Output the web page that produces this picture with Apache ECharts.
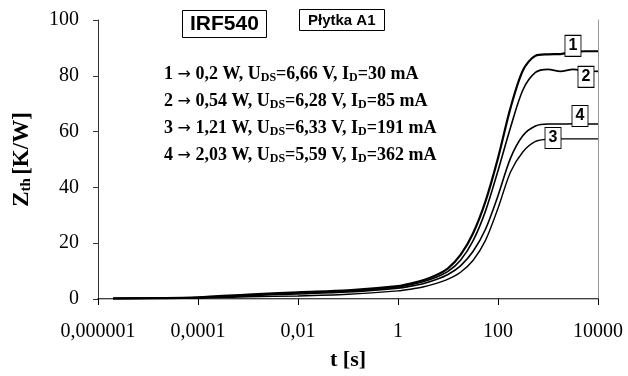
<!DOCTYPE html>
<html>
<head>
<meta charset="utf-8">
<script src="https://cdn.jsdelivr.net/npm/echarts@6/dist/echarts.min.js"></script>
<style>html,body{margin:0;padding:0;background:#fff}#c{width:628px;height:376px}</style>
</head>
<body>
<div id="c"></div>
<script>
// time points [s]
const times = [2e-6, 1e-5, 1e-4, 1e-3, 0.01, 0.1, 1, 1.78, 3.16, 5.62, 10, 17.8, 31.6, 56.2, 100, 178, 316, 562, 1000, 1780, 3160, 5620, 10000];
// Zth [K/W] curves
const zth1 = [0.2, 0.3, 0.6, 1.6, 2.4, 3.1, 4.6, 5.5, 6.7, 8.4, 11, 15.8, 23.5, 35, 50.5, 68.5, 82, 87.2, 87.7, 87.8, 88.6, 88.8, 88.8];
const zth2 = [0.2, 0.3, 0.5, 1.4, 2.2, 2.9, 4.3, 5.1, 6.2, 7.7, 9.9, 13.9, 20.8, 31.5, 46, 61.5, 75, 81.2, 82.3, 81.6, 82.3, 81.8, 81.6];
const zth3 = [0.15, 0.2, 0.3, 0.8, 1.1, 1.7, 2.9, 3.5, 4.3, 5.5, 7.1, 9.6, 13.8, 21, 32.5, 45.5, 52.8, 56.5, 57.3, 57.4, 57.4, 57.4, 57.4];
const zth4 = [0.2, 0.3, 0.45, 1.2, 1.8, 2.5, 3.9, 4.6, 5.5, 6.9, 8.8, 11.9, 17, 25, 37, 50.5, 58.6, 62, 62.7, 62.7, 62.8, 62.7, 62.7];
const curveNames = ['1', '2', '3', '4'];
// curve number label positions [t, Zth]
const labelPos = [[3160, 90.7], [5750, 79.6], [1260, 57.7], [4365, 65.6]];
const xTickLabels = ['0,000001', '0,0001', '0,01', '1', '100', '10000'];
const legendLines = [
  '1 {a|\u2192} 0,2 W, U{s|DS}=6,66 V, I{s|D}=30 mA',
  '2 {a|\u2192} 0,54 W, U{s|DS}=6,28 V, I{s|D}=85 mA',
  '3 {a|\u2192} 1,21 W, U{s|DS}=6,33 V, I{s|D}=191 mA',
  '4 {a|\u2192} 2,03 W, U{s|DS}=5,59 V, I{s|D}=362 mA'
];

const allZ = [zth1, zth2, zth3, zth4];
const widths = [2.2, 1.6, 1.4, 1.6];
const chart = echarts.init(document.getElementById('c'), null, {renderer: 'canvas'});

const serif = '"Liberation Serif", "Times New Roman", serif';
const sans = '"Liberation Sans", Arial, sans-serif';

const titles = [
  {text: 'IRF540', left: 182, top: 10, padding: [4, 8, 3, 8], borderColor: '#000', borderWidth: 1, backgroundColor: '#fff',
   textStyle: {fontFamily: sans, fontWeight: 'bold', fontSize: 21, color: '#000'}},
  {text: 'P\u0142ytka A1', left: 299, top: 9, padding: [4, 9, 3, 9], borderColor: '#000', borderWidth: 1, backgroundColor: '#fff',
   textStyle: {fontFamily: sans, fontWeight: 'bold', fontSize: 15, color: '#000'}}
];
legendLines.forEach((t, i) => {
  titles.push({text: t, left: 164, top: 65 + i * 27, padding: 0,
    textStyle: {fontFamily: serif, fontWeight: 'bold', fontSize: 18, color: '#000',
      rich: {
        s: {fontFamily: serif, fontWeight: 'bold', fontSize: 12, color: '#000', verticalAlign: 'bottom', padding: [7, 0, 0, 0]},
        a: {fontFamily: '"DejaVu Sans", sans-serif', fontWeight: 'normal', fontSize: 16, color: '#000'}
      }}});
});

const series = allZ.map((z, i) => ({
  type: 'line',
  name: curveNames[i],
  data: times.map((t, k) => [t, z[k]]),
  showSymbol: false,
  smooth: 0.3,
  lineStyle: {color: '#000', width: widths[i]},
  itemStyle: {color: '#000'},
  z: 2,
  markPoint: {
    symbol: 'rect',
    symbolSize: [16, 21],
    itemStyle: {color: '#fff', borderColor: '#000', borderWidth: 1},
    label: {show: true, position: 'inside', formatter: curveNames[i], fontFamily: sans, fontWeight: 'bold', fontSize: 16, color: '#000'},
    data: [{coord: labelPos[i]}],
    z: 5
  }
}));

chart.setOption({
  animation: false,
  backgroundColor: '#fff',
  title: titles,
  grid: {left: 98, right: 30, top: 20, bottom: 77},
  xAxis: [{
    type: 'log', logBase: 100, min: 1e-6, max: 1e4, splitNumber: 5,
    name: 't [s]', nameLocation: 'middle', nameGap: 50,
    nameTextStyle: {fontFamily: serif, fontWeight: 'bold', fontSize: 22, color: '#000'},
    axisLine: {lineStyle: {color: '#000', width: 1.5}},
    axisTick: {length: 6, lineStyle: {color: '#000'}},
    splitLine: {show: false},
    minorTick: {show: false},
    axisLabel: {margin: 23, fontFamily: serif, fontSize: 20, color: '#000',
      formatter: v => xTickLabels[Math.round(Math.log10(v) / 2) + 3]}
  }, {
    type: 'log', logBase: 100, min: 1e-6, max: 1e4, position: 'top',
    axisLine: {lineStyle: {color: '#bbb', width: 1}},
    axisTick: {show: false}, axisLabel: {show: false}, splitLine: {show: false}
  }],
  yAxis: [{
    type: 'value', min: 0, max: 100, interval: 20,
    name: '{z|Z}{t|th} {z|[K/W]}', nameLocation: 'middle', nameGap: 64, nameRotate: 90,
    nameTextStyle: {rich: {
      z: {fontFamily: serif, fontWeight: 'bold', fontSize: 23, color: '#000'},
      t: {fontFamily: serif, fontWeight: 'bold', fontSize: 15, color: '#000', verticalAlign: 'bottom', padding: [9, 0, 0, 0]}
    }},
    axisLine: {show: true, lineStyle: {color: '#333', width: 1}},
    axisTick: {show: true, length: 5, lineStyle: {color: '#333'}},
    splitLine: {show: false},
    axisLabel: {margin: 19, fontFamily: serif, fontSize: 20, color: '#000'}
  }, {
    type: 'value', min: 0, max: 100, position: 'right',
    axisLine: {show: true, lineStyle: {color: '#999', width: 1}},
    axisTick: {show: false}, axisLabel: {show: false}, splitLine: {show: false}
  }],
  series: series
});
</script>
</body>
</html>
